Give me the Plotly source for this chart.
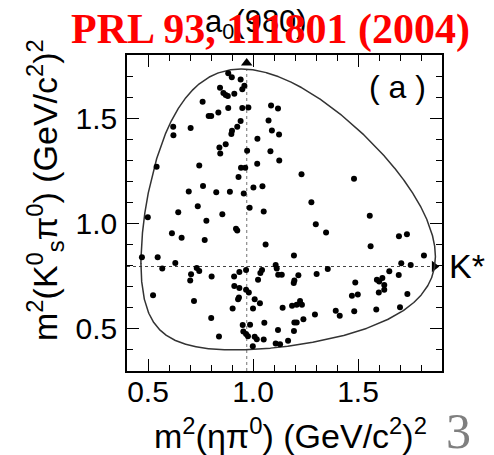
import numpy as np
import plotly.graph_objects as go

# Particle masses (GeV/c^2) used for the kinematic boundary of D0 -> Ks pi0 eta
M_D0 = 1.8646
M_KS = 0.4976
M_PI0 = 0.1350
M_ETA = 0.5479

# Resonance bands marked on the plot
A0_980_M2 = 0.97
KSTAR_M2 = 0.796

# Candidate events: m^2(eta pi0) and m^2(Ks pi0)
m2_etapi = [
    0.882, 0.899, 0.941, 0.959, 0.949, 0.843, 0.859, 0.870, 0.880, 0.911,
    0.760, 0.882, 0.949, 0.978, 1.086, 1.119, 0.835, 0.789, 0.801, 0.941,
    1.074, 0.925, 0.900, 0.897, 0.703, 0.620, 0.621, 1.090, 1.124, 1.021,
    0.870, 0.840, 0.844, 0.972, 1.083, 1.125, 0.541, 0.744, 0.943, 0.963,
    1.020, 0.931, 1.231, 1.481, 0.762, 0.694, 0.825, 0.890, 0.956, 1.002,
    1.045, 1.278, 0.737, 0.644, 0.854, 0.984, 1.051, 0.499, 0.778, 1.299,
    0.919, 0.925, 0.614, 0.660, 0.770, 1.060, 1.556, 1.348, 1.695, 1.733,
    1.560, 0.471, 0.546, 0.630, 0.568, 0.732, 0.744, 0.705, 0.701, 0.803,
    0.935, 0.967, 0.910, 1.043, 1.035, 1.024, 1.108, 1.113, 1.120, 1.137,
    1.195, 1.216, 1.197, 1.194, 1.303, 0.911, 0.935, 0.967, 0.980, 0.933,
    0.929, 1.008, 1.033, 0.524, 0.719, 0.903, 1.000, 1.141, 1.186, 1.208,
    1.224, 1.233, 1.295, 0.801, 1.240, 1.197, 1.208, 1.054, 0.951, 0.986,
    1.119, 1.195, 0.954, 0.967, 0.976, 1.008, 1.018, 1.051, 0.838, 1.167,
    1.108, 1.129, 0.999, 1.814, 1.706, 1.751, 1.356, 1.649, 1.694, 1.590,
    1.616, 1.601, 1.625, 1.625, 1.487, 1.599, 1.499, 1.471, 1.735, 1.587,
    1.700, 1.482, 1.394, 1.413,
]
m2_kspi = [
    1.713, 1.694, 1.684, 1.654, 1.638, 1.644, 1.620, 1.610, 1.605, 1.616,
    1.578, 1.549, 1.549, 1.551, 1.560, 1.546, 1.527, 1.510, 1.510, 1.487,
    1.489, 1.460, 1.440, 1.425, 1.453, 1.459, 1.419, 1.442, 1.423, 1.402,
    1.376, 1.361, 1.333, 1.346, 1.343, 1.299, 1.269, 1.276, 1.265, 1.265,
    1.284, 1.221, 1.234, 1.213, 1.178, 1.152, 1.148, 1.151, 1.143, 1.171,
    1.177, 1.101, 1.082, 1.054, 1.044, 1.075, 1.057, 1.030, 1.013, 0.997,
    0.975, 0.967, 0.954, 0.932, 0.922, 0.901, 1.037, 0.957, 0.940, 0.949,
    0.892, 0.840, 0.840, 0.813, 0.787, 0.789, 0.775, 0.759, 0.730, 0.748,
    0.770, 0.780, 0.749, 0.780, 0.765, 0.733, 0.803, 0.787, 0.757, 0.757,
    0.848, 0.754, 0.729, 0.718, 0.760, 0.703, 0.694, 0.686, 0.673, 0.649,
    0.641, 0.640, 0.622, 0.659, 0.632, 0.597, 0.597, 0.600, 0.610, 0.614,
    0.632, 0.614, 0.568, 0.552, 0.546, 0.530, 0.530, 0.529, 0.518, 0.519,
    0.495, 0.490, 0.487, 0.476, 0.465, 0.463, 0.451, 0.449, 0.464, 0.444,
    0.430, 0.427, 0.417, 0.848, 0.811, 0.803, 0.784, 0.773, 0.756, 0.733,
    0.741, 0.725, 0.708, 0.686, 0.720, 0.673, 0.663, 0.657, 0.665, 0.592,
    0.603, 0.584, 0.586, 0.562,
]

X_RANGE = [0.4, 1.9]
Y_RANGE = [0.3, 1.8]
X_TICKS = [0.5, 1.0, 1.5]
Y_TICKS = [0.5, 1.0, 1.5]
TICK_TEXT = ["0.5", "1.0", "1.5"]

FONT = "Liberation Sans, Arial, Helvetica, sans-serif"
SERIF = "Liberation Serif, Times New Roman, serif"


def dalitz_boundary(n=3000):
    """Closed kinematic contour in the (m^2(eta pi0), m^2(Ks pi0)) plane."""
    lo = (M_ETA + M_PI0) ** 2
    hi = (M_D0 - M_KS) ** 2
    t = np.linspace(0.0, np.pi, n)
    s = lo + (hi - lo) * (1 - np.cos(t)) / 2
    m12 = np.sqrt(s)
    e_pi = (s - M_ETA**2 + M_PI0**2) / (2 * m12)
    e_k = (M_D0**2 - s - M_KS**2) / (2 * m12)
    p_pi = np.sqrt(np.clip(e_pi**2 - M_PI0**2, 0, None))
    p_k = np.sqrt(np.clip(e_k**2 - M_KS**2, 0, None))
    upper = (e_pi + e_k) ** 2 - (p_pi - p_k) ** 2
    lower = (e_pi + e_k) ** 2 - (p_pi + p_k) ** 2
    xs = np.concatenate([s, s[::-1], s[:1]])
    ys = np.concatenate([lower, upper[::-1], lower[:1]])
    return xs, ys


bx, by = dalitz_boundary()
top_of_contour = float(np.max(by))
right_of_contour = (M_D0 - M_KS) ** 2

fig = go.Figure()

# a0(980) band guide (vertical dotted) and K* band guide (horizontal dashed)
fig.add_trace(go.Scatter(
    x=[A0_980_M2, A0_980_M2], y=[Y_RANGE[0], top_of_contour],
    mode="lines", line=dict(color="#8a8a8a", width=1.2, dash="dot"),
    hoverinfo="skip", showlegend=False))
fig.add_trace(go.Scatter(
    x=[X_RANGE[0], right_of_contour - 0.02], y=[KSTAR_M2, KSTAR_M2],
    mode="lines", line=dict(color="#444444", width=1, dash="3px,3px"),
    hoverinfo="skip", showlegend=False))

# arrow heads at the ends of the guides
fig.add_trace(go.Scatter(
    x=[A0_980_M2], y=[top_of_contour + 0.028],
    mode="markers", marker=dict(symbol="triangle-up", size=10, color="black"),
    hoverinfo="skip", showlegend=False))
fig.add_trace(go.Scatter(
    x=[right_of_contour - 0.005], y=[KSTAR_M2],
    mode="markers", marker=dict(symbol="triangle-right", size=10, color="black"),
    hoverinfo="skip", showlegend=False))

# kinematic boundary
fig.add_trace(go.Scatter(
    x=bx, y=by, mode="lines", line=dict(color="#333333", width=1.5),
    hoverinfo="skip", showlegend=False))

# events
fig.add_trace(go.Scatter(
    x=m2_etapi, y=m2_kspi, mode="markers",
    marker=dict(symbol="circle", size=6, color="black"),
    showlegend=False))

# plot-area geometry in pixels, used to place the text around the frame
W, H = 494, 455
L, R, T, B = 127, 52, 55, 84
PW, PH = W - L - R, H - T - B


def px(xp):
    return (xp - L) / PW


def py(yp):
    return (H - B - yp) / PH


annotations = [
    dict(text="( a )", x=px(397), y=py(87), font=dict(size=32, color="black", family=FONT)),
    dict(text="K*", x=px(447), y=py(266), xanchor="left",
         font=dict(size=34, color="black", family=FONT)),
    dict(text="a<sub>0</sub>(980)", x=px(256), y=py(24),
         font=dict(size=31, color="black", family=FONT)),
    dict(text="m<sup>2</sup>(ηπ<sup>0</sup>) (GeV/c<sup>2</sup>)<sup>2</sup>",
         x=px(290), y=py(433), font=dict(size=34, color="black", family=FONT)),
    dict(text="m<sup>2</sup>(K<sup>0</sup><sub>s</sub>π<sup>0</sup>) (GeV/c<sup>2</sup>)<sup>2</sup>",
         x=px(45), y=py(190), textangle=-90,
         font=dict(size=34, color="black", family=FONT)),
    dict(text="3", x=px(458), y=py(431),
         font=dict(size=50, color="#7f7f7f", family=SERIF)),
    dict(text="<b>PRL 93, 111801 (2004)</b>", x=px(69), y=py(29), xanchor="left",
         font=dict(size=42, color="red", family=SERIF)),
]
for a in annotations:
    a.update(xref="paper", yref="paper", showarrow=False)
    a.setdefault("xanchor", "center")
    a.setdefault("yanchor", "middle")

axis_common = dict(
    showline=True, linecolor="black", linewidth=1.5, mirror="ticks",
    ticks="inside", ticklen=12, tickwidth=1.2, tickcolor="black",
    showgrid=False, zeroline=False,
    tickfont=dict(size=30, color="black", family=FONT),
    minor=dict(ticks="inside", ticklen=6, tickwidth=1, tickcolor="black", dtick=0.1, showgrid=False),
)

fig.update_layout(
    width=W, height=H,
    margin=dict(l=L, r=R, t=T, b=B),
    paper_bgcolor="white", plot_bgcolor="white",
    showlegend=False,
    xaxis=dict(range=X_RANGE, tickvals=X_TICKS, ticktext=TICK_TEXT,
               ticklabelstandoff=-7, **axis_common),
    yaxis=dict(range=Y_RANGE, tickvals=Y_TICKS, ticktext=TICK_TEXT,
               ticklabelstandoff=2, **axis_common),
    annotations=annotations,
)

fig.write_html("out.html")
